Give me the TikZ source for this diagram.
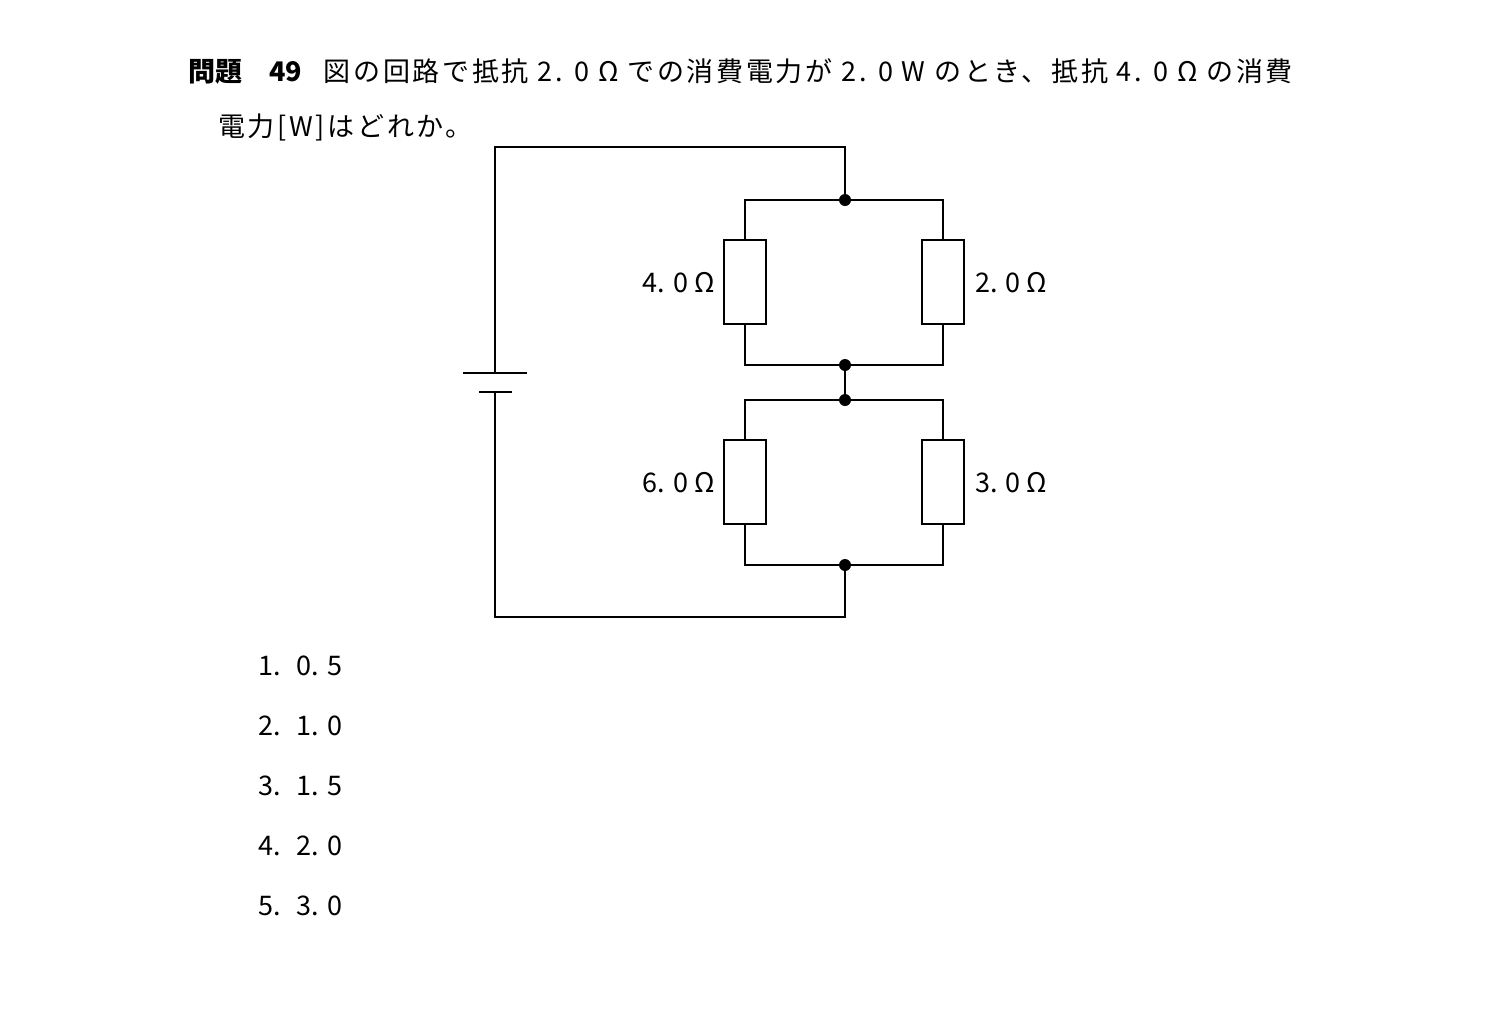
\documentclass[tikz,border=0pt]{standalone}
\usepackage{fontspec}
\setmainfont{Noto Sans CJK JP}
\newfontfamily\spc[LetterSpace=10]{Noto Sans CJK JP}
\begin{document}
\begin{tikzpicture}[x=1pt,y=-1pt,
  w/.style={line width=1.6pt},
  res/.style={draw,line width=1.6pt,minimum width=42pt,minimum height=84pt,inner sep=0pt},
  dot/.style={circle,fill,inner sep=0pt,minimum size=12pt},
  lab/.style={font=\fontsize{27}{30}\selectfont,inner sep=0pt},
  txt/.style={font=\fontsize{27}{30}\selectfont,inner sep=0pt,anchor=west}]
\useasboundingbox (0,0) rectangle (1512,1031);
\node[txt] (t1) at (188,71) {\textbf{問題}\hspace{1em}\textbf{49}\hspace{0.8em}{\spc 図の回路で抵抗 2. 0 Ω での消費電力が 2. 0 W のとき、抵抗 4. 0 Ω の消費}};
\node[txt] (t2) at (218,127) {\spc 電力[W]はどれか。};
\coordinate (bt) at (495,147);
\coordinate (bb) at (495,617);
\coordinate (tr) at (845,147);
\node[dot] (d1) at (845,200) {};
\node[dot] (d2) at (845,365) {};
\node[dot] (d3) at (845,400) {};
\node[dot] (d4) at (845,565) {};
\coordinate (br) at (845,617);
\node[res] (r4) at (745,282) {};
\node[res] (r2) at (943,282) {};
\node[res] (r6) at (745,482) {};
\node[res] (r3) at (943,482) {};
\node[lab,anchor=east] (l4) at (715,283) {4. 0 Ω};
\node[lab,anchor=west] (l2) at (975,283) {2. 0 Ω};
\node[lab,anchor=east] (l6) at (715,483) {6. 0 Ω};
\node[lab,anchor=west] (l3) at (975,483) {3. 0 Ω};
\coordinate (p1) at (495,373);
\coordinate (p2) at (495,392);
\draw[w] (463,373) -- (527,373);
\draw[w] (479,392) -- (512,392);
\draw[w] (p1) -- (bt) -- (tr) -- (d1);
\draw[w] (p2) -- (bb) -- (br) -- (d4);
\draw[w] (r4.north) |- (d1) -| (r2.north);
\draw[w] (r4.south) |- (d2) -| (r2.south);
\draw[w] (d2) -- (d3);
\draw[w] (r6.north) |- (d3) -| (r3.north);
\draw[w] (r6.south) |- (d4) -| (r3.south);
\node[txt] (o1) at (258,666) {1.\hspace{0.6em}0. 5};
\node[txt] (o2) at (258,726) {2.\hspace{0.6em}1. 0};
\node[txt] (o3) at (258,786) {3.\hspace{0.6em}1. 5};
\node[txt] (o4) at (258,846) {4.\hspace{0.6em}2. 0};
\node[txt] (o5) at (258,906) {5.\hspace{0.6em}3. 0};
\end{tikzpicture}
\end{document}
